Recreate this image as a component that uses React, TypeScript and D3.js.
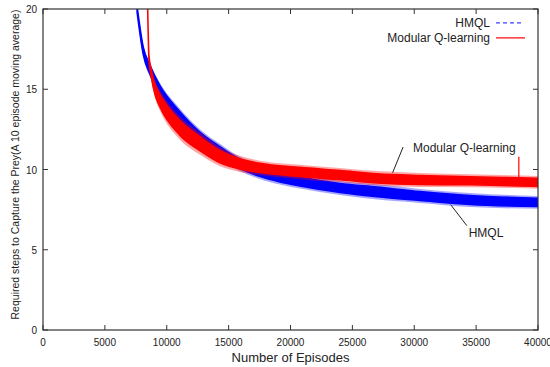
import React from 'react';
import * as d3 from 'd3';

// HMQL (blue) – 10 episode moving average
const HMQL_EPISODES = [7600, 8100, 8650, 9450, 11050, 12700, 14300, 15900, 17500, 19150, 20750, 24000, 27000, 30450, 34500, 40000];
const HMQL_STEPS = [20.0, 17.4, 16.2, 14.9, 13.3, 12.0, 11.1, 10.35, 9.85, 9.5, 9.25, 8.85, 8.6, 8.35, 8.1, 7.95];
const HMQL_SPREAD = [0.25, 0.3, 0.35, 0.4, 0.4, 0.4, 0.4, 0.35, 0.35, 0.35, 0.35, 0.35, 0.38, 0.35, 0.35, 0.32];

// Modular Q-learning (red)
const MQL_EPISODES = [8460, 8560, 8750, 9050, 9450, 11050, 12700, 14300, 15900, 17500, 20750, 24000, 27000, 30450, 34500, 40000];
const MQL_STEPS = [20.0, 17.0, 16.0, 15.0, 14.3, 12.6, 11.6, 10.8, 10.35, 10.1, 9.85, 9.65, 9.45, 9.35, 9.3, 9.2];
const MQL_SPREAD = [0.12, 0.15, 0.3, 0.42, 0.5, 0.58, 0.55, 0.48, 0.4, 0.36, 0.36, 0.36, 0.36, 0.35, 0.32, 0.32];
const MQL_SPIKE = { episode: 38450, from: 9.2, to: 10.8 };

const X_TICKS = [0, 5000, 10000, 15000, 20000, 25000, 30000, 35000, 40000];
const Y_TICKS = [0, 5, 10, 15, 20];

const MARGIN = { top: 9, right: 12, bottom: 37, left: 43 };
const WIDTH = 550;
const HEIGHT = 367;
const FONT = '"Liberation Sans", Arial, Helvetica, sans-serif';

interface Pt { x: number; y: number; s: number; }

const toPts = (xs: number[], ys: number[], ss: number[]): Pt[] =>
    xs.map((x, i) => ({ x, y: ys[i], s: ss[i] }));

const App: React.FC = () => {
    const innerW = WIDTH - MARGIN.left - MARGIN.right;
    const innerH = HEIGHT - MARGIN.top - MARGIN.bottom;

    const x = d3.scaleLinear().domain([0, 40000]).range([0, innerW]);
    const y = d3.scaleLinear().domain([0, 20]).range([innerH, 0]);

    // band generator, k scales the spread (outer noisy fringe vs dense core)
    const band = (k: number) => d3.area<Pt>()
        .x(d => x(d.x))
        .y0(d => y(d.y - d.s * k))
        .y1(d => y(d.y + d.s * k))
        .curve(d3.curveMonotoneX);

    const hmql = toPts(HMQL_EPISODES, HMQL_STEPS, HMQL_SPREAD);
    const mql = toPts(MQL_EPISODES, MQL_STEPS, MQL_SPREAD);

    const tick = 5;
    const frame = '#333';

    return (
        <svg width={WIDTH} height={HEIGHT} style={{ position: 'absolute', left: 0, top: 0, background: '#fff' }}
            fontFamily={FONT}>
            <defs>
                <clipPath id="plot-clip">
                    <rect x={0} y={0} width={innerW} height={innerH} />
                </clipPath>
            </defs>
            <g transform={`translate(${MARGIN.left},${MARGIN.top})`}>
                <g clipPath="url(#plot-clip)">
                    <path d={band(1.25)(hmql) ?? ''} fill="#0000ff" opacity={0.35} />
                    <path d={band(0.8)(hmql) ?? ''} fill="#0000ff" stroke="#0000ff" strokeWidth={1.5} />
                    <path d={band(1.25)(mql) ?? ''} fill="#ff0000" opacity={0.35} />
                    <path d={band(0.8)(mql) ?? ''} fill="#ff0000" stroke="#ff0000" strokeWidth={1.5} />
                    <line x1={x(MQL_SPIKE.episode)} x2={x(MQL_SPIKE.episode)}
                        y1={y(MQL_SPIKE.from)} y2={y(MQL_SPIKE.to)} stroke="#ff0000" strokeWidth={1.2} />
                </g>

                {/* frame */}
                <rect x={0} y={0} width={innerW} height={innerH} fill="none" stroke={frame} strokeWidth={1.2} />

                {/* x ticks, mirrored on top */}
                {X_TICKS.map(t => (
                    <g key={`x${t}`}>
                        <line x1={x(t)} x2={x(t)} y1={innerH} y2={innerH - tick} stroke={frame} />
                        <line x1={x(t)} x2={x(t)} y1={0} y2={tick} stroke={frame} />
                        <text x={x(t)} y={innerH + 16} fontSize={10} textAnchor="middle" fill="#222">{t}</text>
                    </g>
                ))}

                {/* y ticks, mirrored on right */}
                {Y_TICKS.map(t => (
                    <g key={`y${t}`}>
                        <line x1={0} x2={tick} y1={y(t)} y2={y(t)} stroke={frame} />
                        <line x1={innerW} x2={innerW - tick} y1={y(t)} y2={y(t)} stroke={frame} />
                        <text x={-6} y={y(t) + 4} fontSize={10} textAnchor="end" fill="#222">{t}</text>
                    </g>
                ))}

                {/* legend */}
                <text x={x(40000) - 48} y={y(19.13) + 4} fontSize={12} textAnchor="end" fill="#222">HMQL</text>
                <line x1={x(40000) - 42} x2={x(40000) - 16} y1={y(19.13)} y2={y(19.13)}
                    stroke="#4040ff" strokeWidth={1.2} strokeDasharray="4,3" />
                <text x={x(40000) - 48} y={y(18.2) + 4} fontSize={12} textAnchor="end" fill="#222">Modular Q-learning</text>
                <line x1={x(40000) - 42} x2={x(40000) - 13} y1={y(18.2)} y2={y(18.2)}
                    stroke="#ff0000" strokeWidth={1.2} />

                {/* annotations */}
                <line x1={x(29100)} x2={x(28250)} y1={y(11.4)} y2={y(9.8)} stroke="#222" strokeWidth={1} />
                <text x={x(29900)} y={y(11.1)} fontSize={12} fill="#222">Modular Q-learning</text>
                <line x1={x(32950)} x2={x(34250)} y1={y(7.8)} y2={y(6.5)} stroke="#222" strokeWidth={1} />
                <text x={x(34400)} y={y(5.8)} fontSize={12} fill="#222">HMQL</text>

                {/* axis titles */}
                <text x={innerW / 2} y={innerH + 32} fontSize={13} textAnchor="middle" fill="#222">Number of Episodes</text>
                <text transform={`translate(${-MARGIN.left + 19},${innerH / 2 - 5}) rotate(-90)`} fontSize={10.5}
                    textAnchor="middle" fill="#222">
                    Required steps to Capture the Prey(A 10 episode moving average)
                </text>
            </g>
        </svg>
    );
};

export default App;
